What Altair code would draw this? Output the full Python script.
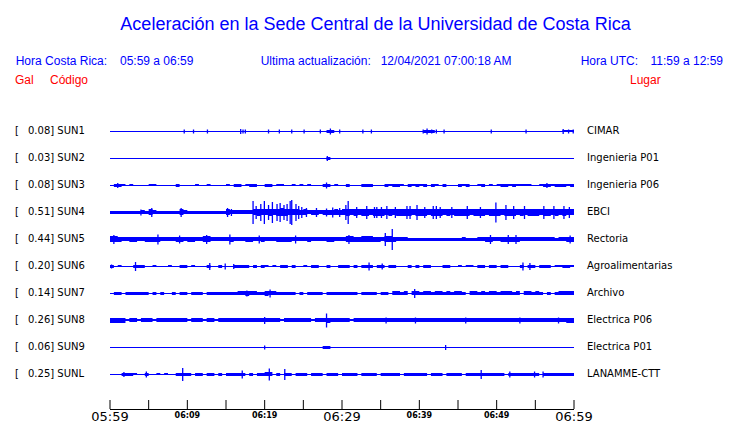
import altair as alt
import pandas as pd

# ---------------- data ----------------
STATIONS = ["SUN1", "SUN2", "SUN3", "SUN4", "SUN5", "SUN6", "SUN7", "SUN8", "SUN9", "SUNL"]
GAL = ["0.08", "0.03", "0.08", "0.51", "0.44", "0.20", "0.14", "0.26", "0.06", "0.25"]
PLACES = ["CIMAR", "Ingenieria P01", "Ingenieria P06", "EBCI", "Rectoria",
          "Agroalimentarias", "Archivo", "Electrica P06", "Electrica P01", "LANAMME-CTT"]

# band thickness (px) of each trace, one digit per half minute (120 samples, 05:59 -> 06:59)
CORE_SUN1 = ("111111111111" "111111111111" "111111111111" "111111111111" "111111113311"
             "111111111111" "111111111333" "111111111111" "111111111111" "111111111222")
CORE_SUN2 = ("111111111111" "111111111111" "111111111111" "111111111111" "111111113111"
             "111111111111" "111111111111" "111111111111" "111111111111" "111111111111")
CORE_SUN3 = ("133212111122" "111113111121" "121111213312" "331133122112" "121211133121"
             "131113331113" "233213232313" "213111323112" "312123323222" "211233233323")
CORE_SUN4 = ("333333334364" "333333643333" "333333644444" "467667678766" "656455455565"
             "676767767776" "767777677767" "776767777677" "767776777676" "777677676766")
CORE_SUN5 = ("665445544555" "544445545544" "664444454445" "544544455554" "444544445544"
             "466556665546" "654443333333" "333333343334" "455445555544" "444444434455")
CORE_SUN6 = ("312111333112" "111211331211" "131131113333" "131321213313" "112133113113"
             "331313331331" "331113131331" "113311212213" "313313311131" "331333122332")
CORE_SUN7 = ("133133333313" "131131331333" "133333333445" "443354433333" "131333313333"
             "333313333133" "144341443443" "443434431443" "434434443414" "434313134444")
CORE_SUN8 = ("555524424442" "444444442444" "244244444444" "444444442444" "444424445444"
             "442444444444" "444444444444" "444444444444" "444444444444" "444444444455")
CORE_SUN9 = ("111111111111" "111111111111" "111111111111" "111111111111" "111111133111"
             "111111111111" "111111111111" "111111111111" "111111111111" "111111111111")
CORE_SUNL = ("111333211311" "212113333133" "133131333331" "313344131331" "333133313331"
             "333313333133" "333133333313" "331333313333" "333333133333" "333133333333")
CORES = [CORE_SUN1, CORE_SUN2, CORE_SUN3, CORE_SUN4, CORE_SUN5,
         CORE_SUN6, CORE_SUN7, CORE_SUN8, CORE_SUN9, CORE_SUNL]

# individual spikes: (minutes after 05:59, total height px)
SPIKES_SUN1 = [(9.6, 3), (10.8, 3), (12.6, 3), (16.9, 4), (17.2, 3), (17.5, 3), (20.5, 3), (21.9, 3),
               (23.5, 3), (25.1, 3), (27.2, 3), (28.5, 5), (29.7, 3), (32.7, 3), (33.8, 3), (40.5, 3),
               (41.0, 5), (41.6, 3), (42.2, 3), (43.2, 3), (49.3, 3), (53.8, 3), (58.6, 4), (59.3, 3),
               (59.9, 3)]
SPIKES_SUN2 = [(28.1, 4)]
SPIKES_SUN3 = [(1.0, 4), (28.0, 5), (56.5, 4)]
SPIKES_SUN4 = [(4.0, 5), (5.4, 8), (9.2, 8), (15.2, 8), (15.7, 6),
               (18.5, 22), (18.9, 12), (19.5, 16), (19.96, 22), (20.5, 14), (21.0, 20), (21.6, 16),
               (22.0, 18), (22.5, 14), (22.9, 16), (23.3, 22), (23.5, 24), (24.05, 16), (24.4, 12),
               (24.8, 10), (25.4, 8), (26.7, 8), (28.0, 7), (28.8, 9), (29.7, 8), (30.5, 14),
               (30.8, 22), (31.9, 10), (33.2, 12), (34.2, 10), (34.5, 10), (35.1, 10), (35.8, 12),
               (36.9, 10), (38.4, 12), (38.8, 12), (39.7, 14), (40.7, 10), (41.8, 12), (42.2, 12),
               (42.7, 10), (44.2, 10), (46.2, 12), (47.9, 10), (49.9, 19), (51.2, 14), (52.2, 12),
               (53.6, 12), (56.1, 12), (57.4, 12), (58.7, 12), (59.4, 10)]
SPIKES_SUN5 = [(0.5, 8), (6.2, 9), (9.0, 7), (12.5, 8), (15.5, 9), (19.3, 7), (24.0, 7), (30.9, 8),
               (35.6, 12), (36.5, 20), (49.2, 8), (51.5, 8), (52.5, 8), (59.5, 7)]
SPIKES_SUN6 = [(0.2, 3), (3.3, 8), (12.9, 6), (14.9, 5), (16.0, 4), (33.5, 7), (35.2, 5),
               (53.4, 7), (54.3, 6)]
SPIKES_SUN7 = [(17.7, 5), (20.7, 7), (39.4, 8)]
SPIKES_SUN8 = [(20.0, 6), (28.0, 13), (35.7, 5), (39.5, 5), (46.0, 5), (53.0, 5), (58.0, 5)]
SPIKES_SUN9 = [(20.0, 3), (43.4, 4)]
SPIKES_SUNL = [(1.8, 4), (4.7, 5), (9.4, 12), (17.1, 7), (20.6, 11), (22.6, 10), (48.0, 8),
               (51.7, 5), (54.9, 5), (56.0, 5)]
SPIKES = [SPIKES_SUN1, SPIKES_SUN2, SPIKES_SUN3, SPIKES_SUN4, SPIKES_SUN5,
          SPIKES_SUN6, SPIKES_SUN7, SPIKES_SUN8, SPIKES_SUN9, SPIKES_SUNL]

TICK_MINUTES = [0, 5, 10, 15, 20, 25, 30, 35, 40, 45, 50, 55, 60]
LABEL_MINUTES = [0, 10, 20, 30, 40, 50, 60]
LABEL_TEXTS = ["05:59", "06:09", "06:19", "06:29", "06:39", "06:49", "06:59"]
MAJOR_MINUTES = [0, 30, 60]

# ---------------- build tables ----------------
PX = 1.0 / 27.0   # one pixel in row units (rows are 27 px apart)
STEP = 0.5

core_rows = []
for k, (st, s) in enumerate(zip(STATIONS, CORES)):
    vals = [int(c) for c in s] + [int(s[-1])]
    for i, th in enumerate(vals):
        up = th // 2
        core_rows.append({"station": st, "t": i * STEP,
                          "top": k - up * PX, "bot": k + (th - up) * PX})
core_df = pd.DataFrame(core_rows)

spike_rows = []
for k, (st, lst) in enumerate(zip(STATIONS, SPIKES)):
    for t, h in lst:
        spike_rows.append({"station": st, "t": t, "lo": k - h / 2 * PX, "hi": k + h / 2 * PX + PX})
spike_df = pd.DataFrame(spike_rows)

label_df = pd.DataFrame({"row": list(range(len(STATIONS))),
                         "code": [f"{g}] {s}" for g, s in zip(GAL, STATIONS)],
                         "place": PLACES})
tick_df = pd.DataFrame({"m": TICK_MINUTES})
ticklab_df = pd.DataFrame({"m": LABEL_MINUTES, "label": LABEL_TEXTS,
                           "major": [m in MAJOR_MINUTES for m in LABEL_MINUTES]})
axis_df = pd.DataFrame({"start": [TICK_MINUTES[0]], "end": [TICK_MINUTES[-1]]})
one = pd.DataFrame({"a": [0]})

BLUE = "#0000ff"
RED = "#ff0000"
XS = alt.Scale(domain=[0, 60], range=[102, 566], nice=False, zero=False)
YS = alt.Scale(domain=[0, 9], range=[123, 366], nice=False, zero=False)

core = alt.Chart(core_df).mark_area(interpolate="step-after", color=BLUE, opacity=1).encode(
    x=alt.X("t:Q", scale=XS, axis=None),
    y=alt.Y("top:Q", scale=YS, axis=None),
    y2="bot:Q",
    detail="station:N",
)
spikes = alt.Chart(spike_df).mark_rule(color=BLUE, strokeWidth=1.3).encode(
    x=alt.X("t:Q", scale=XS, axis=None),
    y=alt.Y("lo:Q", scale=YS, axis=None),
    y2="hi:Q",
)

bracket = alt.Chart(label_df).mark_text(align="left", baseline="middle", font="DejaVu Sans",
                                        fontSize=10, color="black").encode(
    x=alt.value(7), y=alt.Y("row:Q", scale=YS, axis=None), text=alt.value("["))
codes = alt.Chart(label_df).mark_text(align="left", baseline="middle", font="DejaVu Sans",
                                      fontSize=10, color="black").encode(
    x=alt.value(20), y=alt.Y("row:Q", scale=YS, axis=None), text="code:N")
places = alt.Chart(label_df).mark_text(align="left", baseline="middle", font="DejaVu Sans",
                                       fontSize=10, color="black").encode(
    x=alt.value(579), y=alt.Y("row:Q", scale=YS, axis=None), text="place:N")

axis_line = alt.Chart(axis_df).mark_rule(color="black", strokeWidth=1).encode(
    x=alt.X("start:Q", scale=XS, axis=None), x2="end:Q", y=alt.value(401.5))
ticks = alt.Chart(tick_df).mark_rule(color="black", strokeWidth=1).encode(
    x=alt.X("m:Q", scale=XS, axis=None), y=alt.value(392), y2=alt.value(401))
major_lab = alt.Chart(ticklab_df).transform_filter("datum.major").mark_text(
    align="center", baseline="middle", font="DejaVu Sans", fontSize=13, color="black").encode(
    x=alt.X("m:Q", scale=XS, axis=None), y=alt.value(408.5), text="label:N")
minor_lab = alt.Chart(ticklab_df).transform_filter("!datum.major").mark_text(
    align="center", baseline="middle", font="DejaVu Sans", fontSize=8, fontWeight="bold",
    color="black").encode(
    x=alt.X("m:Q", scale=XS, axis=None), y=alt.value(407.5), text="label:N")


def label(txt, x, y, size, color, align="left"):
    return alt.Chart(one).mark_text(align=align, baseline="alphabetic", font="Liberation Sans",
                                    fontSize=size, color=color).encode(
        x=alt.value(x), y=alt.value(y), text=alt.value(txt))


texts = [
    label("Aceleración en la Sede Central de la Universidad de Costa Rica", 367.5, 22, 18, BLUE, "center"),
    label("Hora Costa Rica:", 7.7, 56.5, 12, BLUE),
    label("05:59 a 06:59", 112, 56.5, 12, BLUE),
    label("Ultima actualización:", 252.7, 56.5, 12, BLUE),
    label("12/04/2021 07:00:18 AM", 372.7, 56.5, 12, BLUE),
    label("Hora UTC:", 572.7, 56.5, 12, BLUE),
    label("11:59 a 12:59", 715, 56.5, 12, BLUE, "right"),
    label("Gal", 7, 76, 12, RED),
    label("Código", 42, 76, 12, RED),
    label("Lugar", 622, 76, 12, RED),
]

chart = alt.layer(core, spikes, bracket, codes, places, axis_line, ticks, major_lab, minor_lab,
                  *texts).properties(
    width=724, height=415, padding=0,
    autosize=alt.AutoSizeParams(type="none"),
    background="white",
).configure_view(stroke=None)

chart.save("out.html", embed_options={"renderer": "svg", "actions": False})
